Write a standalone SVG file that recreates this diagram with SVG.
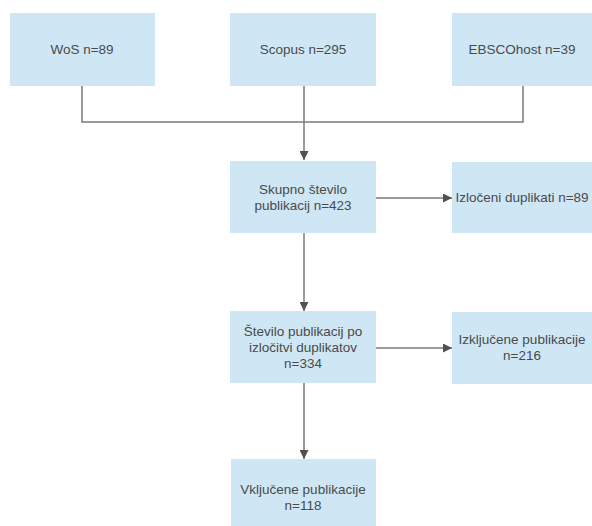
<svg xmlns="http://www.w3.org/2000/svg" width="592" height="526" viewBox="0 0 592 526">
<style>
.box{fill:#cfe7f5;}
.t{font-family:"Liberation Sans",Arial,sans-serif;font-size:13.5px;fill:#4a4a4a;text-anchor:middle;}
.c{stroke:#7a7a7a;stroke-width:1.5;fill:none;}
</style>
<defs>
<marker id="ah" viewBox="0 0 10 10" refX="10" refY="5" markerWidth="9" markerHeight="9" markerUnits="userSpaceOnUse" orient="auto">
<path d="M0,0 L10,5 L0,10 Z" fill="#505050"/>
</marker>
</defs>
<rect width="592" height="526" fill="#ffffff"/>
<g id="connectors">
<path class="c" d="M82,86 V122 H523 V86"/>
<path class="c" d="M304,86 V160" marker-end="url(#ah)"/>
<path class="c" d="M375,198 H452" marker-end="url(#ah)"/>
<path class="c" d="M304,233 V311" marker-end="url(#ah)"/>
<path class="c" d="M375,348 H452" marker-end="url(#ah)"/>
<path class="c" d="M304,383 V459" marker-end="url(#ah)"/>
</g>
<g id="wos">
<rect class="box" x="10" y="13" width="145" height="73"/>
<text class="t" x="82" y="54">WoS n=89</text>
</g>
<g id="scopus">
<rect class="box" x="230" y="13" width="146" height="73"/>
<text class="t" x="303" y="54">Scopus n=295</text>
</g>
<g id="ebsco">
<rect class="box" x="452" y="13" width="142" height="73"/>
<text class="t" x="522" y="54">EBSCOhost n=39</text>
</g>
<g id="skupno">
<rect class="box" x="230" y="161" width="146" height="72"/>
<text class="t" x="303" y="194">Skupno število</text>
<text class="t" x="303" y="210">publikacij n=423</text>
</g>
<g id="izloceni">
<rect class="box" x="452" y="162" width="142" height="71"/>
<text class="t" x="522" y="202">Izločeni duplikati n=89</text>
</g>
<g id="stevilo">
<rect class="box" x="230" y="311" width="146" height="72"/>
<text class="t" x="303" y="336">Število publikacij po</text>
<text class="t" x="303" y="352">izločitvi duplikatov</text>
<text class="t" x="303" y="368">n=334</text>
</g>
<g id="izkljucene">
<rect class="box" x="452" y="312" width="142" height="72"/>
<text class="t" x="522" y="344">Izključene publikacije</text>
<text class="t" x="522" y="360">n=216</text>
</g>
<g id="vkljucene">
<rect class="box" x="231" y="459" width="145" height="70"/>
<text class="t" x="303" y="494">Vključene publikacije</text>
<text class="t" x="303" y="510">n=118</text>
</g>
</svg>
